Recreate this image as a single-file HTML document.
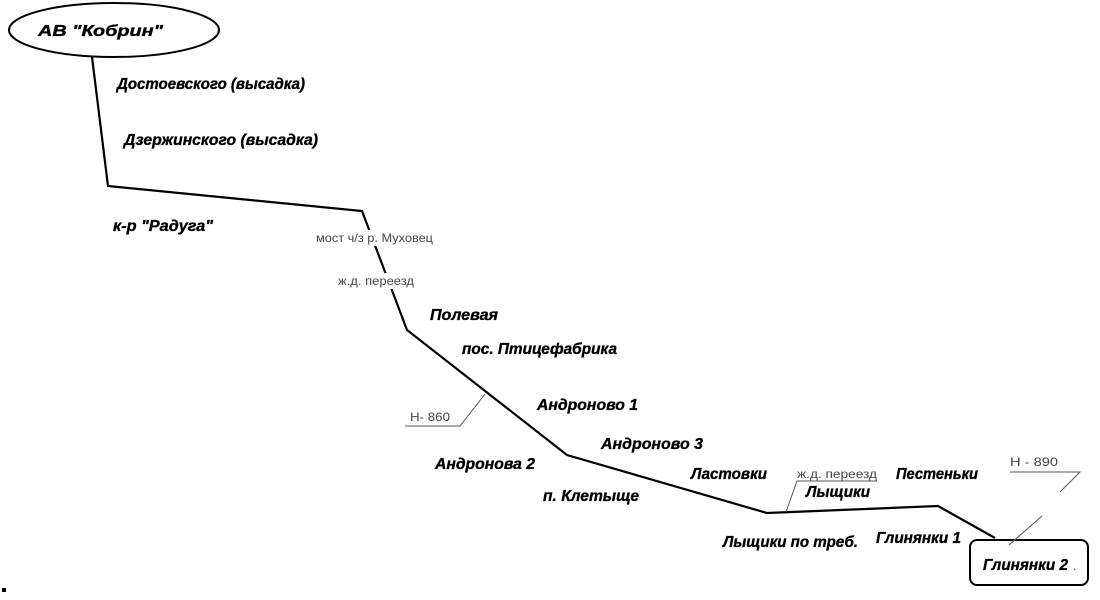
<!DOCTYPE html>
<html><head><meta charset="utf-8"><style>
body{margin:0;background:#fff;}
svg text{font-family:"Liberation Sans",sans-serif;}
.b{font-weight:bold;font-style:italic;font-size:15.5px;fill:#000;stroke:#000;stroke-width:0.35;}
.s{font-size:12px;fill:#444;}
</style></head><body>
<svg width="1100" height="595" viewBox="0 0 1100 595" xmlns="http://www.w3.org/2000/svg">
<ellipse cx="114" cy="30" rx="105" ry="27" fill="#fff" stroke="#000" stroke-width="2"/>
<text class="b" x="38" y="36" font-size="17" textLength="125" lengthAdjust="spacingAndGlyphs">АВ "Кобрин"</text>
<polyline points="92,57 108,186 362,211 407,330 567,455 767,513 938,506 995,538" fill="none" stroke="#000" stroke-width="2.2"/>
<rect x="970" y="540" width="118" height="45" rx="7" fill="#fff" stroke="#000" stroke-width="2"/>
<text class="b" x="983" y="570" textLength="85" lengthAdjust="spacingAndGlyphs">Глинянки 2</text>
<text class="s" x="1073" y="570">.</text>
<polyline points="405,426 460,426 485,394" fill="none" stroke="#555" stroke-width="1"/>
<text class="s" x="410" y="421" textLength="40" lengthAdjust="spacingAndGlyphs">Н- 860</text>
<polyline points="1010,472 1080,472 1060,492" fill="none" stroke="#555" stroke-width="1"/>
<line x1="1042" y1="516" x2="1009" y2="545" stroke="#555" stroke-width="1"/>
<text class="s" x="1010" y="466" textLength="48" lengthAdjust="spacingAndGlyphs">Н -   890</text>
<polyline points="877,481 797,481 786,512" fill="none" stroke="#555" stroke-width="1"/>
<text class="s" x="797" y="478" textLength="80" lengthAdjust="spacingAndGlyphs">ж.д. переезд</text>
<rect x="315" y="230" width="119" height="16" fill="#fff"/>
<rect x="337" y="273" width="78" height="16" fill="#fff"/>
<text class="s" x="316" y="242" textLength="117" lengthAdjust="spacingAndGlyphs">мост ч/з р. Муховец</text>
<text class="s" x="338" y="285" textLength="76" lengthAdjust="spacingAndGlyphs">ж.д. переезд</text>
<text class="b" x="117" y="89" textLength="188" lengthAdjust="spacingAndGlyphs">Достоевского (высадка)</text>
<text class="b" x="124" y="145" textLength="194" lengthAdjust="spacingAndGlyphs">Дзержинского (высадка)</text>
<text class="b" x="113" y="231" textLength="100" lengthAdjust="spacingAndGlyphs">к-р "Радуга"</text>
<text class="b" x="430" y="320" textLength="68" lengthAdjust="spacingAndGlyphs">Полевая</text>
<text class="b" x="462" y="354" textLength="155" lengthAdjust="spacingAndGlyphs">пос. Птицефабрика</text>
<text class="b" x="537" y="410" textLength="101" lengthAdjust="spacingAndGlyphs">Андроново 1</text>
<text class="b" x="601" y="449" textLength="102" lengthAdjust="spacingAndGlyphs">Андроново 3</text>
<text class="b" x="435" y="469" textLength="100" lengthAdjust="spacingAndGlyphs">Андронова 2</text>
<text class="b" x="543" y="501" textLength="96" lengthAdjust="spacingAndGlyphs">п.  Клетыще</text>
<text class="b" x="691" y="479" textLength="76" lengthAdjust="spacingAndGlyphs">Ластовки</text>
<text class="b" x="806" y="497" textLength="64" lengthAdjust="spacingAndGlyphs">Лыщики</text>
<text class="b" x="896" y="479" textLength="82" lengthAdjust="spacingAndGlyphs">Пестеньки</text>
<text class="b" x="723" y="547" textLength="135" lengthAdjust="spacingAndGlyphs">Лыщики по треб.</text>
<text class="b" x="876" y="543" textLength="85" lengthAdjust="spacingAndGlyphs">Глинянки 1</text>
<rect x="2" y="588" width="4" height="4" fill="#000"/>
</svg>
</body></html>
